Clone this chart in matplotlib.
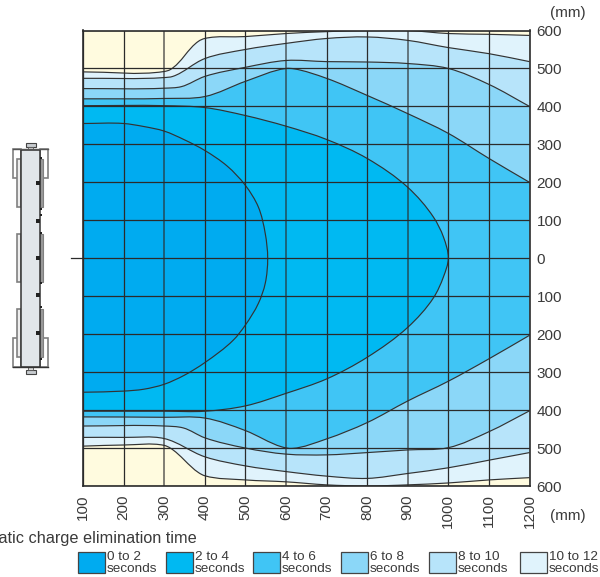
import matplotlib
matplotlib.use('Agg')
import matplotlib.pyplot as plt
import numpy as np
from matplotlib.patches import Rectangle, PathPatch
from matplotlib.path import Path

plt.rcParams['font.family'] = ['Liberation Sans', 'DejaVu Sans']

# each band: upper edge and lower edge in mm
x_0_2_up = [100, 200, 250, 300, 350, 400, 455, 500, 532, 549, 555]
y_0_2_up = [355, 355, 347, 335, 312, 284, 243, 192, 135, 65, 0]
x_0_2_lo = [555, 549, 532, 500, 470, 400, 350, 300, 250, 200, 100]
y_0_2_lo = [0, -66, -119, -176, -216, -275, -308, -332, -345, -350, -353]

x_2_4_up = [100, 300, 400, 500, 600, 700, 800, 900, 963, 988, 1000]
y_2_4_up = [402, 402, 397, 376, 348, 313, 263, 187, 109, 56, 0]
x_2_4_lo = [1000, 988, 963, 900, 800, 700, 600, 500, 400, 300, 100]
y_2_4_lo = [0, -49, -105, -182, -261, -318, -356, -389, -403, -403, -403]

x_4_6_up = [100, 300, 400, 500, 600, 620, 700, 800, 900, 1000, 1100, 1200]
y_4_6_up = [420, 421, 426, 466, 500, 499, 474, 429, 381, 329, 263, 200]
x_4_6_lo = [1200, 1100, 1000, 900, 800, 700, 615, 590, 500, 400, 300, 100]
y_4_6_lo = [-203, -265, -324, -376, -433, -476, -501, -497, -454, -421, -419, -418]

x_6_8_up = [100, 300, 342, 400, 500, 600, 700, 800, 900, 1000, 1100, 1200]
y_6_8_up = [447, 448, 452, 479, 503, 521, 518, 517, 513, 500, 458, 400]
x_6_8_lo = [1200, 1100, 1000, 900, 800, 700, 600, 500, 400, 347, 300, 100]
y_6_8_lo = [-402, -457, -499, -505, -512, -518, -516, -500, -473, -447, -442, -442]

x_8_10_up = [100, 300, 321, 400, 500, 600, 700, 800, 900, 1000, 1100, 1200]
y_8_10_up = [474, 476, 479, 526, 550, 566, 579, 583, 574, 555, 539, 518]
x_8_10_lo = [1200, 1100, 1000, 900, 800, 700, 600, 500, 400, 300, 200, 100]
y_8_10_lo = [-512, -532, -552, -567, -580, -574, -562, -547, -523, -475, -472, -472]

x_10_12_up = [100, 300, 315, 385, 400, 500, 600, 700, 800, 900, 1000, 1100, 1200]
y_10_12_up = [491, 492, 497, 572, 579, 584, 592, 597, 600, 600, 592, 590, 587]
x_10_12_lo = [1200, 1100, 1000, 900, 800, 700, 600, 500, 400, 385, 315, 300, 200, 100]
y_10_12_lo = [-578, -584, -592, -597, -600, -597, -589, -584, -573, -565, -500, -493, -492, -495]

x_ticks = [100, 200, 300, 400, 500, 600, 700, 800, 900, 1000, 1100, 1200]
y_ticks = [-600, -500, -400, -300, -200, -100, 0, 100, 200, 300, 400, 500, 600]
y_labels = ['600', '500', '400', '300', '200', '100', '0', '100', '200', '300', '400', '500', '600']

legend_labels = ['0 to 2', '2 to 4', '4 to 6', '6 to 8', '8 to 10', '10 to 12']
legend_x = [78, 166, 253, 341, 429, 520]
colors = ['#00ABF0', '#00B9F2', '#40C5F5', '#8BD7F8', '#B7E4FA', '#E0F3FC']
bg = '#FFFBDF'
dark = '#2B2B2B'
text_col = '#3A3A3A'

W, H = 600, 577
fig = plt.figure(figsize=(W / 100, H / 100), dpi=100)
ax = fig.add_axes([83 / W, 1 - 486 / H, 446.5 / W, 455.5 / H])
ax.set_xlim(100, 1200)
ax.set_ylim(-600, 600)
ax.set_facecolor(bg)


def curve(xs, ys):
    # bezier through the read points, tangent bisects the two chords
    p = np.column_stack([xs, ys]).astype(float)
    d = p[1:] - p[:-1]
    seg = np.linalg.norm(d, axis=1, keepdims=True)
    u = d / seg
    t = np.zeros_like(p)
    t[1:-1] = u[:-1] + u[1:]
    t[0] = u[0]
    t[-1] = u[-1]
    t = t / np.linalg.norm(t, axis=1, keepdims=True)
    verts = [p[0]]
    for i in range(len(p) - 1):
        verts.append(p[i] + t[i] * seg[i] / 3)
        verts.append(p[i + 1] - t[i + 1] * seg[i] / 3)
        verts.append(p[i + 1])
    return verts


def curve_codes(verts):
    return [Path.MOVETO] + [Path.CURVE4] * (len(verts) - 1)


bands = [
    (x_10_12_up, y_10_12_up, x_10_12_lo, y_10_12_lo, colors[5]),
    (x_8_10_up, y_8_10_up, x_8_10_lo, y_8_10_lo, colors[4]),
    (x_6_8_up, y_6_8_up, x_6_8_lo, y_6_8_lo, colors[3]),
    (x_4_6_up, y_4_6_up, x_4_6_lo, y_4_6_lo, colors[2]),
    (x_2_4_up, y_2_4_up, x_2_4_lo, y_2_4_lo, colors[1]),
    (x_0_2_up, y_0_2_up, x_0_2_lo, y_0_2_lo, colors[0]),
]
for xu, yu, xl, yl, c in bands:
    if xu[-1] == xl[0] and yu[-1] == yl[0]:
        # closed nose: one curve all the way round
        vs = curve(xu + xl[1:], yu + yl[1:])
        cs = curve_codes(vs)
        ax.add_patch(PathPatch(Path(vs, cs), fc=c, ec='none', lw=0, zorder=1))
        ax.add_patch(PathPatch(Path(vs, cs), fc='none', ec='#333333', lw=0.85, zorder=2))
    else:
        vu = curve(xu, yu)
        vl = curve(xl, yl)
        cu = curve_codes(vu)
        cl = curve_codes(vl)
        fill_codes = cu + [Path.LINETO] + cl[1:] + [Path.LINETO]
        fill_verts = vu + vl + [vu[0]]
        ax.add_patch(PathPatch(Path(fill_verts, fill_codes), fc=c, ec='none', lw=0, zorder=1))
        ax.add_patch(PathPatch(Path(vu, cu), fc='none', ec='#333333', lw=0.85, zorder=2))
        ax.add_patch(PathPatch(Path(vl, cl), fc='none', ec='#333333', lw=0.85, zorder=2))

ax.set_xticks(x_ticks)
ax.set_xticklabels([str(v) for v in x_ticks], rotation=90, fontsize=11, color=text_col)
ax.set_yticks(y_ticks)
ax.set_yticklabels(y_labels, fontsize=11, color=text_col)
ax.yaxis.tick_right()
ax.tick_params(axis='x', length=0, pad=6)
ax.tick_params(axis='y', length=0, pad=5)
ax.grid(True, color=dark, lw=0.9, zorder=3)
ax.set_axisbelow(False)
# the 300, 600 and 900 lines print softer in the original
for g in ax.get_xgridlines():
    if g.get_xdata()[0] in (300, 600, 900):
        g.set_alpha(0.6)
        g.set_linewidth(1.4)
for s in ax.spines.values():
    s.set_color(dark)
    s.set_linewidth(1.2)
    s.set_zorder(4)

# overlay in pixels for the instrument drawing, legend and loose labels
ov = fig.add_axes([0, 0, 1, 1])
ov.set_xlim(0, W)
ov.set_ylim(H, 0)
ov.axis('off')
ov.patch.set_alpha(0)


def box(x0, y0, x1, y1, fc='none', ec=dark, lw=0.8, z=5):
    ov.add_patch(Rectangle((x0, y0), x1 - x0, y1 - y0, fc=fc, ec=ec, lw=lw, zorder=z))


grey = '#808080'
for y0, y1 in [(149, 178), (338, 367)]:
    box(13, y0, 21, y1, fc='white', ec=grey, lw=1.2)
    box(40, y0, 47.5, y1, fc='white', ec=grey, lw=1.2)
for y0, y1 in [(159, 207), (234, 282), (309, 357)]:
    box(16.7, y0, 21, y1, fc='#EEEEEE', ec=grey, lw=1.2, z=6)
    box(40, y0, 43, y1, fc='#9A9A9A', ec=grey, lw=0.8, z=6)
box(25.5, 143, 35.5, 147, fc='#C8CCD0', ec='#444444', lw=0.8)
box(28, 147, 33, 150, fc='#DDDDDD', ec='#555555', lw=0.6)
box(25.5, 370, 35.5, 373.5, fc='#C8CCD0', ec='#444444', lw=0.8)
box(28, 367, 33, 370, fc='#DDDDDD', ec='#555555', lw=0.6)
box(20.7, 149.5, 39.7, 367, fc='#E1E6EA', ec='#333333', lw=1.1, z=7)
ov.plot([13, 47.5], [149, 149], color='#555555', lw=1, zorder=8)
ov.plot([13, 47.5], [367, 367], color='#333333', lw=1, zorder=8)
for y in [183, 221, 258, 295, 333]:
    ov.plot(38, y, 's', ms=2.2, mew=0, color='#222222', zorder=9)
for y in [158, 209, 215, 233, 283, 307, 359]:
    ov.plot(41, y, 's', ms=1.8, mew=0, color='#222222', zorder=9)
ov.plot([71, 83], [258, 258], color=dark, lw=0.9, zorder=5)

ov.text(568, 13, '(mm)', fontsize=11, color=text_col, ha='center', va='center')
ov.text(568, 516, '(mm)', fontsize=11, color=text_col, ha='center', va='center')
ov.text(197, 538, 'Static charge elimination time', fontsize=11.7, color=text_col,
        ha='right', va='center')

for lab, lx, c in zip(legend_labels, legend_x, colors):
    box(lx, 552, lx + 26.5, 572.5, fc=c, ec='#444444', lw=0.9)
    ov.text(lx + 29, 556.5, lab, fontsize=9.7, color=text_col, ha='left', va='center')
    ov.text(lx + 29, 568.5, 'seconds', fontsize=9.7, color=text_col, ha='left', va='center')

fig.savefig('out.png', dpi=100)
